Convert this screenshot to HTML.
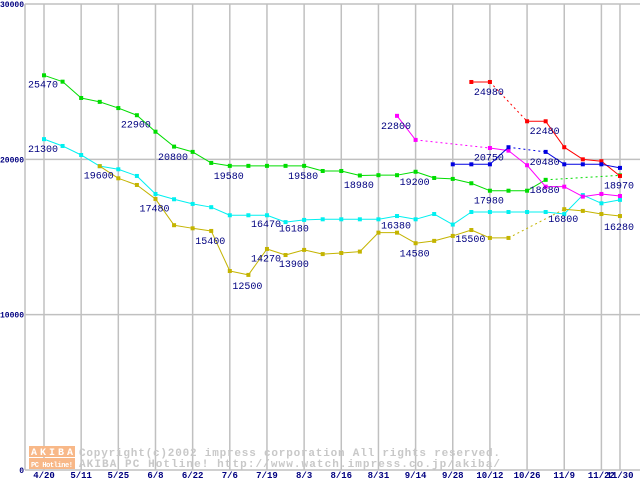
<!DOCTYPE html>
<html><head><meta charset="utf-8"><style>
html,body{margin:0;padding:0;background:#fff;}
svg{display:block;}
</style></head><body>
<svg id="chart" width="640" height="480" xmlns="http://www.w3.org/2000/svg" font-family="Liberation Mono, monospace"></svg>
<script>
const xLabels=["4/20","5/11","5/25","6/8","6/22","7/6","7/19","8/3","8/16","8/31","9/14","9/28","10/12","10/26","11/9","11/22","11/30"];
const xLabelIdx=[0,2,4,6,8,10,12,14,16,18,20,22,24,26,28,30,31];
const yTicks=[0,10000,20000,30000];
const N=null;
const green=[25410,25000,23950,23700,23300,22840,21780,20820,20480,19770,19580,19580,19580,19580,19580,19250,19250,18960,18980,18980,19200,18800,18740,18460,17980,17980,17980,18680,N,N,N,18970];
const cyan=[21300,20860,20280,19560,19360,18930,17770,17430,17130,16920,16400,16400,16400,15960,16100,16140,16140,16140,16140,16350,16140,16480,15800,16610,16610,16610,16610,16610,16480,17700,17170,17390];
const olive=[N,N,N,19560,18780,18350,17450,15760,15560,15390,12810,12560,14230,13840,14170,13900,13970,14060,15280,15280,14600,14750,15070,15450,14940,14940,N,N,16790,16680,16480,16350];
const magenta=[N,N,N,N,N,N,N,N,N,N,N,N,N,N,N,N,N,N,N,22800,21250,N,N,N,20730,20560,19620,18240,18240,17600,17770,17640];
const red=[N,N,N,N,N,N,N,N,N,N,N,N,N,N,N,N,N,N,N,N,N,N,N,24980,24980,N,22450,22450,20780,20000,19880,18930];
const blue=[N,N,N,N,N,N,N,N,N,N,N,N,N,N,N,N,N,N,N,N,N,N,19680,19680,19680,20780,N,20480,19680,19680,19680,19450];
const labelIdx=[0,5,7,10,14,17,20,24,31,0,3,6,9,11,12,12,13.5,13.5,19,20,23,19,24,24,27,27,27,28,31];
const labelText=["25470","22900","20800","19580","19580","18980","19200","17980","18970","21300","19600","17480","15400","12500","14270","16470","13900","16180","16380","14580","15500","22800","24980","20750","22480","20480","18680","16800","16280"];
const series=[["green",green,"#00dd00"],["cyan",cyan,"#00f0f0"],["olive",olive,"#c4b400"],["magenta",magenta,"#ff00ff"],["red",red,"#ff0000"],["blue",blue,"#0000e0"]];

const svg=document.getElementById('chart');
const NS="http://www.w3.org/2000/svg";
function X(i){return 44+i*18.58;}
function Y(v){return 470-v*0.015533;}
function mk(tag,attrs,parent){const e=document.createElementNS(NS,tag);for(const k in attrs)e.setAttribute(k,attrs[k]);(parent||svg).appendChild(e);return e;}

const grid=mk('g',{});


yTicks.forEach(t=>{
  const l=mk('line',{x1:25,x2:640,y1:Y(t),y2:Y(t),stroke:'#c0c0c0','stroke-width':1.5},grid);
  
  
  const tx=mk('text',{x:24,y:Y(t)+3,'text-anchor':'end','font-size':8,'font-weight':'bold',fill:'#000080'},grid);
  
  
  tx.textContent=t;
});
const ax=mk('line',{x1:25,x2:25,y1:4,y2:470,stroke:'#c0c0c0','stroke-width':1.5},grid);


xLabelIdx.forEach((i,k)=>{
  const l=mk('line',{x1:X(i),x2:X(i),y1:4,y2:470,stroke:'#c0c0c0','stroke-width':1.5},grid);
  
  
  const tx=mk('text',{x:X(i),y:478,'text-anchor':'middle','font-size':9,'font-weight':'bold',fill:'#000080'},grid);
  
  
  tx.textContent=xLabels[k];
});

const wm=mk('g',{});


mk('rect',{x:29,y:446,width:46,height:11,fill:'#f8b888'},wm);
mk('rect',{x:29,y:458,width:46,height:11,fill:'#f8b888'},wm);
const a1=mk('text',{x:31,y:455,'font-size':10,'font-weight':'bold',fill:'#fff',textLength:42},wm);a1.textContent="AKIBA";
const a2=mk('text',{x:31,y:467,'font-size':7,'font-weight':'bold',fill:'#fff',textLength:42},wm);a2.textContent="PC Hotline!";
const w1=mk('text',{x:79,y:456,'font-size':11,'font-weight':'bold',fill:'#c8c8c8',textLength:421},wm);w1.textContent="Copyright(c)2002 impress corporation All rights reserved.";
const w2=mk('text',{x:79,y:467,'font-size':11,'font-weight':'bold',fill:'#c8c8c8',textLength:421},wm);w2.textContent="AKIBA PC Hotline!  http://www.watch.impress.co.jp/akiba/";

series.forEach(([name,vals,col])=>{
  const g=mk('g',{});
  
  
  let prev=-1;
  for(let i=0;i<vals.length;i++){
    if(vals[i]===null)continue;
    if(prev>=0){
      const dotted=(i-prev)>1;
      const a={x1:X(prev),y1:Y(vals[prev]),x2:X(i),y2:Y(vals[i]),stroke:col,'stroke-width':1};
      if(dotted)a['stroke-dasharray']='2,3';
      const l=mk('line',a,g);
      
      
    }
    prev=i;
  }
  for(let i=0;i<vals.length;i++){
    if(vals[i]===null)continue;
    const r=mk('rect',{x:X(i)-2,y:Y(vals[i])-2,width:4,height:4,fill:col},g);
    
    
  }
});

const lg=mk('g',{});


labelText.forEach((t,k)=>{
  const tx=mk('text',{x:X(labelIdx[k])-16,y:Y(+t)+13,'font-size':10,fill:'#000080'},lg);
  
  
  tx.textContent=t;
});
</script>
</body></html>
